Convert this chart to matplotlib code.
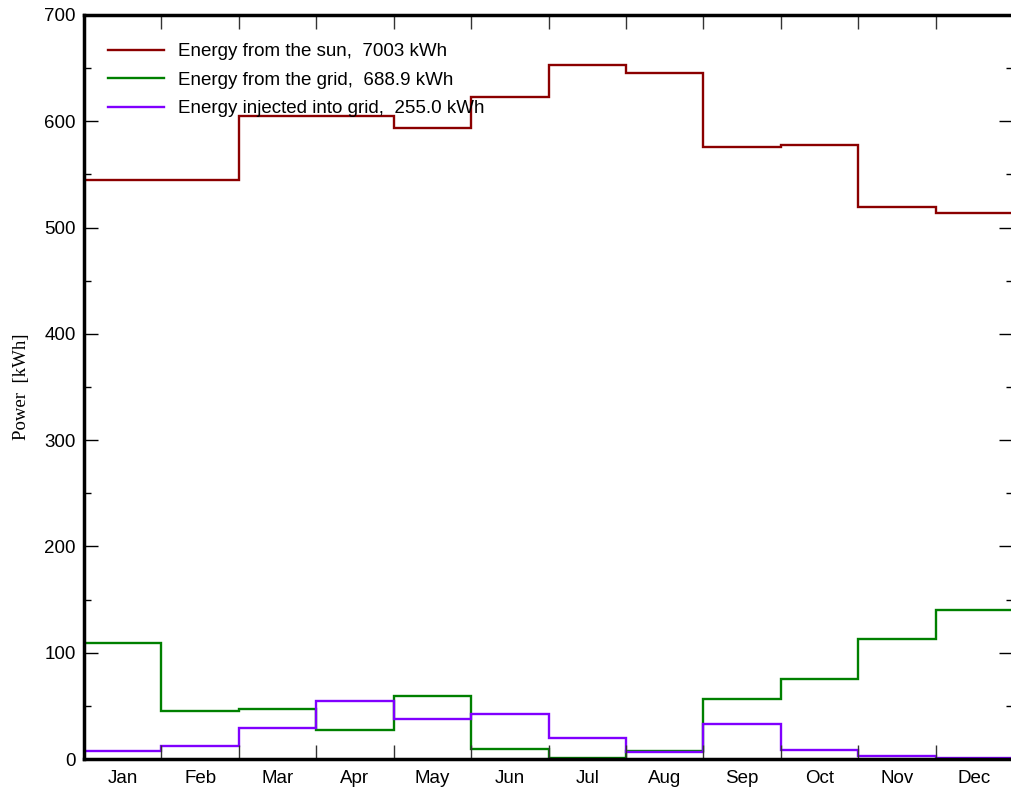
import numpy as np
import matplotlib
matplotlib.use("Agg")
import matplotlib.pyplot as plt
from matplotlib.ticker import MultipleLocator

# monthly energy values [kWh]
months = ["Jan", "Feb", "Mar", "Apr", "May", "Jun",
          "Jul", "Aug", "Sep", "Oct", "Nov", "Dec"]
sun = [545, 545, 605, 604.5, 594, 623, 653, 645, 576, 578, 519, 514]
grid = [109, 45, 47, 27, 59, 9, 0.5, 7.5, 56, 75.5, 113, 140]
injected = [7.5, 12.5, 29, 54.5, 38, 42.5, 20, 6.5, 32.5, 8, 3, 0.5]

plt.rcParams["font.family"] = ["Liberation Sans", "DejaVu Sans"]

fig = plt.figure(figsize=(10.11, 7.88), dpi=100)
ax = fig.add_axes([0.0831, 0.0368, 0.9189, 0.9442])

edges = np.arange(len(months) + 1)
ax.stairs(sun, edges, color="#8b0000", lw=1.7,
          label="Energy from the sun,  7003 kWh")
ax.stairs(grid, edges, color="#008000", lw=1.7,
          label="Energy from the grid,  688.9 kWh")
ax.stairs(injected, edges, color="#8000ff", lw=1.7,
          label="Energy injected into grid,  255.0 kWh")

ax.set_xlim(0, 12)
ax.set_ylim(0, 700)

# month boundaries as ticks, names at the centres
ax.set_xticks(edges)
ax.set_xticklabels([])
ax.set_xticks(edges[:-1] + 0.5, minor=True)
ax.set_xticklabels(months, minor=True, fontsize=13.5)
ax.tick_params(axis="x", which="major", direction="in", length=10,
               width=1, color="#333333", top=True, bottom=True)
ax.tick_params(axis="x", which="minor", length=0, pad=8)

ax.yaxis.set_major_locator(MultipleLocator(100))
ax.yaxis.set_minor_locator(MultipleLocator(50))
ax.tick_params(axis="y", which="major", direction="in", length=10,
               width=1, labelsize=13.5, pad=6, left=True, right=True)
ax.tick_params(axis="y", which="minor", direction="in", length=5,
               width=1, left=True, right=True)

for side in ["left", "top", "bottom"]:
    ax.spines[side].set_linewidth(2.5)
ax.spines["right"].set_visible(False)

ax.set_ylabel("Power  [kWh]", family="Liberation Serif", fontsize=13.5)
ax.yaxis.set_label_coords(-0.058, 0.5)

ax.legend(loc="upper left", frameon=False, fontsize=13.5,
          handlelength=3.0, handletextpad=0.75, labelspacing=0.61,
          borderaxespad=0, borderpad=0, bbox_to_anchor=(0.026, 0.962))

fig.savefig("out.png", dpi=100)
